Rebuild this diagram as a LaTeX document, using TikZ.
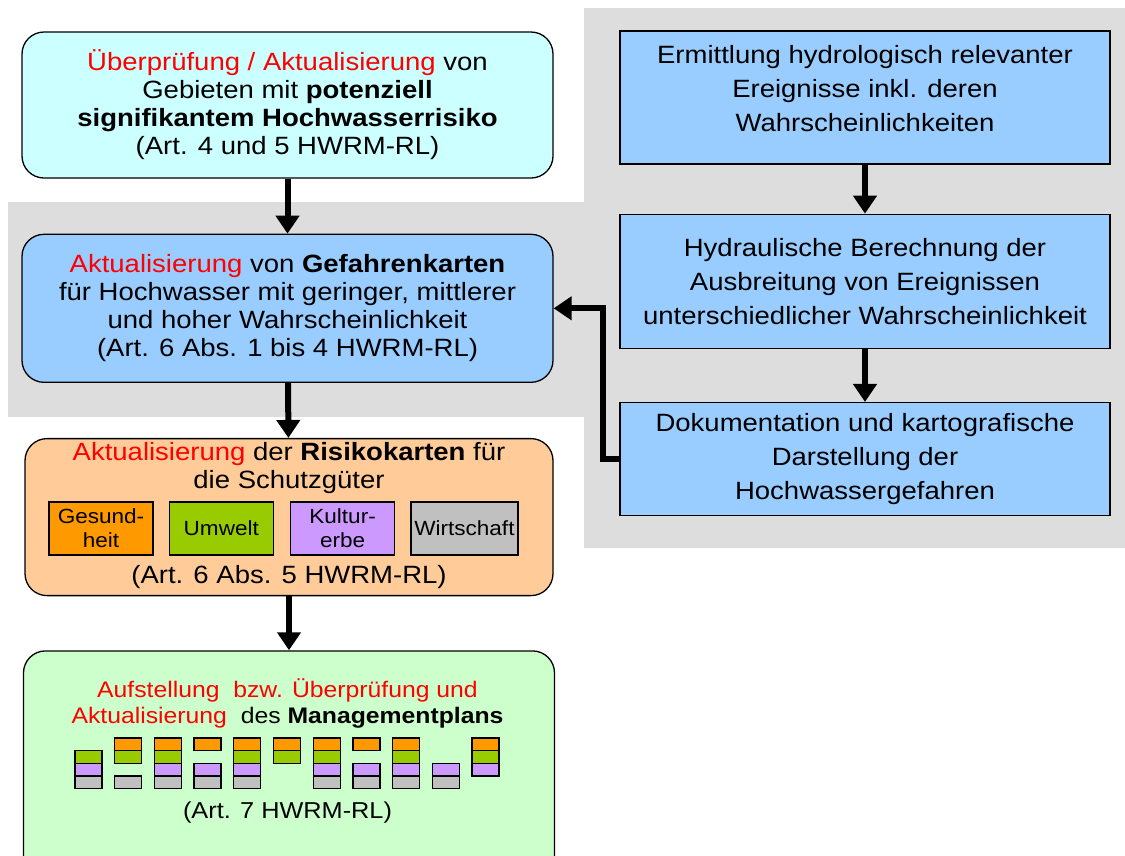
\documentclass[tikz,border=0pt]{standalone}
\usepackage{fontspec}
\setmainfont{Liberation Sans}[FakeStretch=1.1]
\usetikzlibrary{positioning,arrows.meta}
\definecolor{cyanbox}{HTML}{CCFFFF}
\definecolor{bluebox}{HTML}{99CCFF}
\definecolor{orangebox}{HTML}{FFCC99}
\definecolor{greenbox}{HTML}{CCFFCC}
\definecolor{bggray}{HTML}{DDDDDD}
\definecolor{bar1}{HTML}{FF9900}
\definecolor{bar2}{HTML}{99CC00}
\definecolor{bar3}{HTML}{CC99FF}
\definecolor{bar4}{HTML}{C0C0C0}

\begin{document}
\begin{tikzpicture}[x=1pt,y=1pt,>={Triangle[length=18pt,width=23pt]},node distance=55pt,semithick]
    \tikzstyle{every node}=[font=\fontsize{25}{28}\selectfont]
    \tikzstyle{flow}=[draw,line width=1.3pt,rounded corners=22pt,minimum width=531pt,align=center,inner sep=2pt]
    \tikzstyle{task}=[draw,line width=1.3pt,fill=bluebox,minimum width=490pt,align=center,font=\fontsize{25}{34}\selectfont]
    \tikzstyle{good}=[draw,line width=1.3pt,minimum width=104pt,minimum height=53pt,inner sep=1pt,align=center,font=\fontsize{20.5}{24}\selectfont]
    \tikzstyle{conn}=[->,line width=6pt]
    \tikzstyle{bar}=[draw,line width=1.3pt]

    \useasboundingbox (0,0) rectangle (1125,-855);
    \fill[bggray] (584,-8) -- (1125,-8) -- (1125,-548) -- (584,-548) -- (584,-417) -- (8,-417) -- (8,-202) -- (584,-202) -- cycle;

    \node[flow,fill=cyanbox,minimum height=146pt] (B1) at (287.5,-105) {\textcolor{red}{Überprüfung / Aktualisierung} von\\Gebieten mit \textbf{potenziell}\\\textbf{signifikantem Hochwasserrisiko}\\(Art. 4 und 5 HWRM-RL)};
    \node[flow,fill=bluebox,minimum height=148pt] (B2) [below=of B1] {\textcolor{red}{Aktualisierung} von \textbf{Gefahrenkarten}\\für Hochwasser mit geringer, mittlerer\\und hoher Wahrscheinlichkeit\\(Art. 6 Abs. 1 bis 4 HWRM-RL)};
    \node[flow,fill=orangebox,minimum height=157pt,minimum width=528pt,xshift=1.5pt] (B3) [below=of B2] {};
    \node[flow,fill=greenbox,minimum height=230pt] (B4) [below=54pt of B3] {};

    \node (T3) at (289,-468) [align=center] {\textcolor{red}{Aktualisierung} der \textbf{Risikokarten} für\\die Schutzgüter};
    \node[good,fill=bar1] (G) at (101,-528.5) {Gesund-\\heit};
    \node[good,fill=bar2] (U) [right=15pt of G] {Umwelt};
    \node[good,fill=bar3] (K) [right=16pt of U] {Kultur-\\erbe};
    \node[good,fill=bar4,minimum width=107pt] (W) [right=15pt of K] {Wirtschaft};
    \node (A3) at (289,-577) {(Art. 6 Abs. 5 HWRM-RL)};

    \node (T4) at (287.5,-703) [align=center,font=\fontsize{22.5}{26}\selectfont] {\textcolor{red}{Aufstellung\ \ bzw. Überprüfung und}\\\textcolor{red}{Aktualisierung}\ \ des \textbf{Managementplans}};
    \foreach \c/\rows in {0/{2,3,4},1/{1,2,4},2/{1,2,3,4},3/{1,3,4},4/{1,2,3,4},5/{1,2},6/{1,2,3,4},7/{1,3,4},8/{1,2,3,4},9/{3,4},10/{1,2,3}}
        \foreach \r in \rows
            \draw[bar,fill=bar\r] (75+39.7*\c,-738-12.7*\r+12.7) rectangle ++(27,-12.7);
    \node (A4) at (287.5,-813) [font=\fontsize{23}{26}\selectfont] {(Art. 7 HWRM-RL)};

    \node[task,minimum height=133pt,text depth=18pt] (R1) at (865,-97.5) {Ermittlung hydrologisch relevanter\\Ereignisse inkl. deren\\Wahrscheinlichkeiten};
    \node[task,minimum height=134pt] (R2) [below=49pt of R1] {Hydraulische Berechnung der\\Ausbreitung von Ereignissen\\unterschiedlicher Wahrscheinlichkeit};
    \node[task,minimum height=113pt] (R3) [below=53pt of R2] {Dokumentation und kartografische\\Darstellung der\\Hochwassergefahren};

    \draw[conn] (B1) -- (B2);
    \draw[conn] (B2) -- (B3);
    \draw[conn] (B3) -- (B4);
    \draw[conn] (R1) -- (R2);
    \draw[conn] (R2) -- (R3);
    \draw[conn] (R3.west) -- ++(-16,0) |- (B2.east);
\end{tikzpicture}
\end{document}
